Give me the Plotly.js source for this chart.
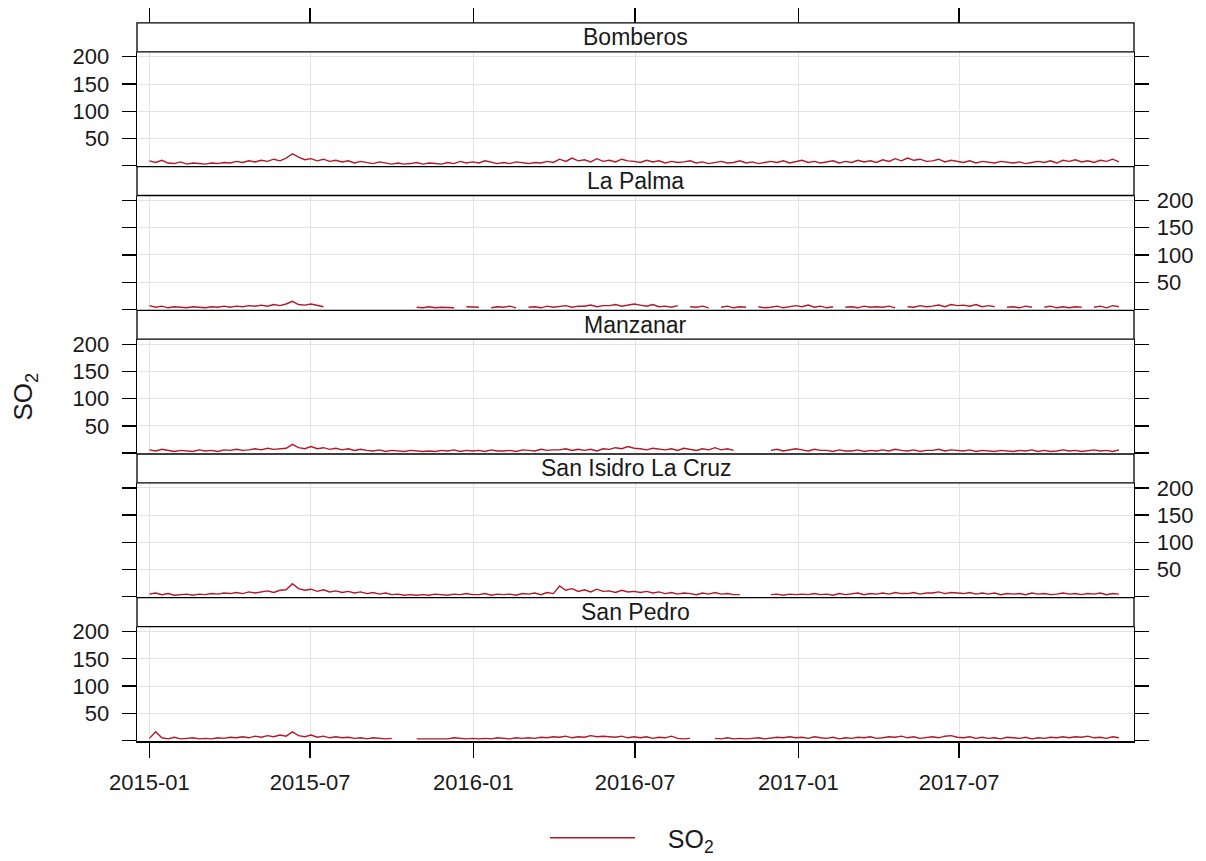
<!DOCTYPE html>
<html>
<head>
<meta charset="utf-8">
<script src="https://cdn.plot.ly/plotly-3.0.1.min.js"></script>
<style>html,body{margin:0;padding:0;background:#fff}#chart{width:1206px;height:861px}</style>
</head>
<body>
<div id="chart"></div>
<script>
// ---- data (weekly readings, starting 2015-01-01) ----
const startDate = '2015-01-01';
const stepDays = 7;
const stations = ['Bomberos', 'La Palma', 'Manzanar', 'San Isidro La Cruz', 'San Pedro'];
const tickDates = ['2015-01-01', '2015-07-01', '2016-01-01', '2016-07-01', '2017-01-01', '2017-07-01'];
const tickLabels = ['2015-01', '2015-07', '2016-01', '2016-07', '2017-01', '2017-07'];
const yTickVals = [50, 100, 150, 200];
const yTickText = ['50', '100', '150', '200'];

const bomberos = [
  9,6,10,5,4, 7,3,5,4, 3,5,4,6,5, 8,6,9,7, 10,8,12,9, 14,22,16,11,13, 9,12,8,10, 7,9,5,8, 6,4,7,5,3, 5,3,4,6, 3,5,4,3, 6,4,8,5,7,
  5,9,6,4, 6,4,7,5, 4,6,5,8,6, 12,8,14,9, 11,7,13,8, 10,7,12,9,8, 6,10,7,9, 5,8,6,7, 9,5,7,4,6, 8,5,6,9, 5,7,4,6, 8,6,9,5,7,
  10,6,8,5, 7,9,5,8, 6,10,7,9,6, 11,8,13,9, 14,10,12,8, 9,12,7,10,8, 6,9,5,8, 7,5,8,6, 5,7,4,6,8, 6,9,5,10, 8,11,7,9, 6,10,8,12,7
];
const laPalma = [
  7,4,6,3,5, 4,3,5,4, 3,5,4,6,4, 6,5,7,6, 8,6,9,7, 10,15,9,8,10, 7,5,null,null, null,null,null,null, null,null,null,null,null, null,null,null,4, 3,5,3,4, 4,3,null,5,4,
  4,null,3,5, 4,6,3,null, 4,5,3,6,4, 5,7,4,6, 6,8,5,7, 7,9,6,8,10, 8,6,9,5, 6,4,7,null, 5,4,6,3,null, 4,6,3,5, 4,null,5,3, 4,6,3,5,7,
  5,8,4,6, 3,5,null,4, 5,3,6,4,5, 4,6,3,null, 5,4,7,5, 6,8,5,9,7, 8,6,9,5, 7,5,null,4, 5,3,6,4,null, 4,6,3,5, 3,5,4,null, 4,6,3,7,5
];
const manzanar = [
  6,4,7,5,3, 5,4,3,6, 4,5,3,6,5, 7,5,6,8, 6,9,7,8, 9,16,10,8,12, 8,10,7,9, 6,8,5,7, 5,4,6,3,5, 4,3,5,4, 3,4,3,5, 4,6,3,5,4,
  5,3,6,4, 4,5,3,6, 5,4,7,5,6, 6,8,5,7, 5,7,4,8, 7,10,8,12,9, 8,6,9,7, 6,8,5,9, 7,5,8,6,10, 6,8,5,null, null,null,null,null, 5,7,4,6,8,
  6,4,7,5, 5,3,6,4, 4,6,3,5,4, 6,4,7,5, 4,6,3,5, 5,7,4,6,5, 4,6,3,5, 4,3,5,4, 3,5,4,6,3, 5,3,4,6, 4,5,3,5, 6,4,5,3,6
];
const sanIsidro = [
  5,7,4,6,3, 4,5,3,5, 4,6,5,7,6, 8,6,9,7, 9,11,8,12, 13,24,15,12,14, 10,13,9,11, 8,10,7,9, 6,8,5,7,4, 5,3,4,3, 4,3,5,4, 3,5,4,6,4,
  4,6,3,5, 4,5,3,6, 5,7,4,8,6, 20,12,15,10, 13,9,14,10, 11,8,12,9,10, 8,10,7,9, 6,8,5,7, 6,4,7,5,8, 5,6,4,4, null,null,null,null, 4,5,3,5,4,
  5,4,6,4, 5,3,6,4, 5,7,4,6,5, 7,5,8,6, 6,8,5,7, 7,9,6,8,7, 6,8,5,7, 5,7,4,6, 5,6,4,7,5, 6,4,5,7, 5,6,4,6, 5,7,4,6,5
];
const sanPedro = [
  4,16,5,3,6, 3,4,5,3, 4,3,5,4,6, 5,7,5,8, 6,9,7,10, 8,16,9,7,10, 6,8,5,7, 5,6,4,5, 3,5,4,3,4, null,null,null,3, 3,4,3,4, 3,5,4,3,4,
  3,4,3,5, 4,3,5,4, 5,4,6,5,7, 6,8,5,7, 6,9,7,8, 7,6,8,5,7, 5,7,4,6, 5,8,4,3, 4,null,3,null,4, 3,5,3,4, 3,4,5,3, 4,6,5,7,5,
  6,4,7,5, 4,6,3,5, 4,6,5,7,4, 5,7,6,8, 5,7,4,6, 7,5,8,9,6, 5,7,4,6, 4,5,3,6, 5,4,6,3,5, 4,6,5,7, 5,7,6,8, 5,6,4,7,5
];
const series = [bomberos, laPalma, manzanar, sanIsidro, sanPedro];

// ---- sampling grid ----
function isoDay(base, addDays) {
  const d = new Date(base + 'T00:00:00Z');
  d.setUTCDate(d.getUTCDate() + addDays);
  return d.toISOString().slice(0, 10);
}
const dates = bomberos.map((_, i) => isoDay(startDate, i * stepDays));

// ---- geometry ----
const W = 1206, H = 861;
const L = 137, R = 1134;
const top0 = 23, unit = 144.2, stripH = 29;
const lineCol = '#b2182b';
const txtCol = '#1a1a1a';
const fontFam = 'Liberation Sans, Arial, sans-serif';
const gridCol = '#e3e3e3';

const traces = [];
const layout = {
  width: W, height: H,
  margin: {l: 0, r: 0, t: 0, b: 0},
  paper_bgcolor: '#fff', plot_bgcolor: '#fff',
  font: {family: fontFam, color: txtCol, size: 22},
  showlegend: true,
  legend: {orientation: 'h', x: 545 / W, xanchor: 'left', y: 1 - 841 / H, yanchor: 'middle',
           font: {size: 25, family: fontFam, color: txtCol}, itemwidth: 85, bgcolor: 'rgba(0,0,0,0)'},
  shapes: [], annotations: [],
  xaxis: {
    domain: [L / W, R / W], range: ['2014-12-18', '2018-01-14'], type: 'date',
    anchor: 'y5', showline: true, linecolor: '#000', linewidth: 1.3,
    ticks: 'outside', ticklen: 15, tickwidth: 1.3, tickcolor: '#000',
    tickvals: tickDates, ticktext: tickLabels, ticklabelstandoff: 6,
    showgrid: true, gridcolor: gridCol, gridwidth: 1, zeroline: false,
    tickfont: {size: 22, family: fontFam, color: txtCol}, automargin: false
  },
  xaxis2: {
    overlaying: 'x', anchor: 'free', position: 1 - top0 / H, side: 'top',
    range: ['2014-12-18', '2018-01-14'], type: 'date',
    ticks: 'outside', ticklen: 15, tickwidth: 1.3, tickcolor: '#000',
    tickvals: tickDates, showticklabels: false, showgrid: false, showline: false, zeroline: false,
    automargin: false
  }
};

stations.forEach((name, i) => {
  const st = top0 + i * unit, sb = st + stripH, pb = st + unit;
  const yk = i === 0 ? 'yaxis' : 'yaxis' + (i + 1);
  const yref = i === 0 ? 'y' : 'y' + (i + 1);
  const left = i % 2 === 0;
  layout[yk] = {
    domain: [1 - pb / H, 1 - sb / H], range: [-1.6, 209.1], anchor: 'x',
    side: left ? 'left' : 'right',
    showline: true, mirror: 'ticks', linecolor: '#000', linewidth: 1.3,
    ticks: 'outside', ticklen: 14, tickwidth: 1.3, tickcolor: '#000',
    tickmode: 'array', tickvals: yTickVals, ticktext: yTickText, ticklabelstandoff: left ? 8 : 3,
    minor: {tickmode: 'array', tickvals: [0], ticks: 'outside', ticklen: 14, tickwidth: 1.3,
            tickcolor: '#000', showgrid: false},
    showgrid: true, gridcolor: gridCol, gridwidth: 1, zeroline: false,
    tickfont: {size: 22, family: fontFam, color: txtCol}, automargin: false
  };
  traces.push({
    type: 'scatter', mode: 'lines', x: dates, y: series[i],
    xaxis: 'x', yaxis: yref, name: '\u00a0\u00a0\u00a0\u00a0SO<sub>2</sub>', legendgroup: 'so2',
    showlegend: i === 0, line: {color: lineCol, width: 1.4}, connectgaps: false,
    hoverinfo: 'x+y'
  });
  layout.shapes.push({
    type: 'rect', xref: 'paper', yref: 'paper', x0: L / W, x1: R / W,
    y0: 1 - sb / H, y1: 1 - st / H, fillcolor: '#fff', line: {color: '#000', width: 1.3}, layer: 'above'
  });
  layout.annotations.push({
    text: name, xref: 'paper', yref: 'paper', x: (L + R) / 2 / W, y: 1 - (st + stripH / 2) / H,
    xanchor: 'center', yanchor: 'middle', showarrow: false,
    font: {size: 23, family: fontFam, color: txtCol}
  });
});

traces.push({type: 'scatter', mode: 'lines', x: [dates[0]], y: [null], xaxis: 'x2', yaxis: 'y',
             showlegend: false, hoverinfo: 'skip'});

layout.annotations.push({
  text: 'SO<sub>2</sub>', xref: 'paper', yref: 'paper', x: 25 / W, y: 1 - 398 / H,
  xanchor: 'center', yanchor: 'middle', textangle: -90, showarrow: false,
  font: {size: 26, family: fontFam, color: txtCol}
});

Plotly.newPlot('chart', traces, layout, {staticPlot: true, displayModeBar: false});
</script>
</body>
</html>
